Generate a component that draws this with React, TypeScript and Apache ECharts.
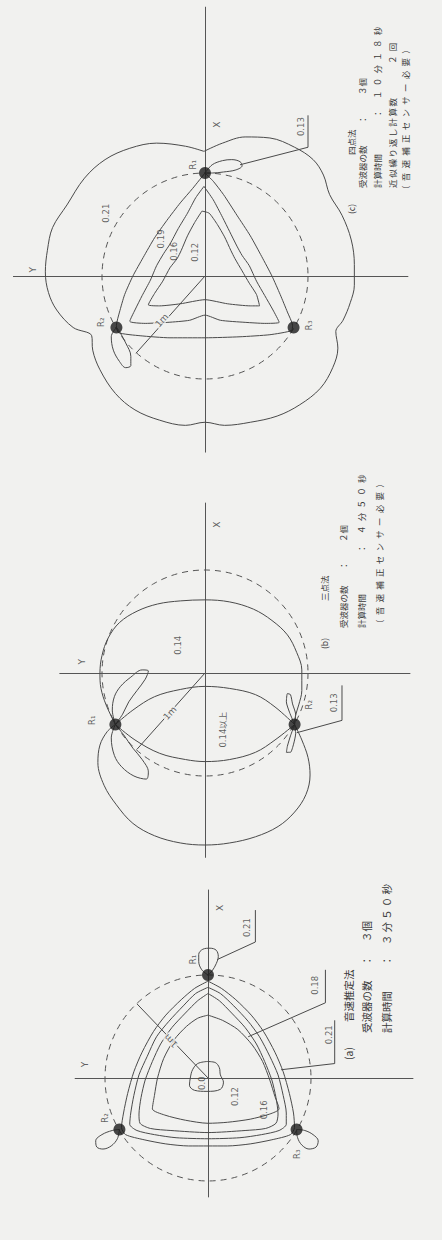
import { useEffect, useRef } from 'react';
import * as echarts from 'echarts';

type Pt = [number, number];

// All coordinates are in metres; u runs to the right (−Y), v runs up (X).

// ---------- (c) 四点法 ----------
const cOuter: Pt[] = [
  [-0.01, 1.21], [0.17, 1.29], [0.39, 1.35], [0.63, 1.34], [0.87, 1.25], [1.05, 1.13],
  [1.15, 0.98], [1.21, 0.79], [1.33, 0.59], [1.42, 0.35], [1.45, 0.11], [1.45, -0.09],
  [1.41, -0.26], [1.34, -0.43], [1.27, -0.54], [1.29, -0.7], [1.24, -0.89], [1.12, -1.09],
  [0.92, -1.25], [0.7, -1.36], [0.44, -1.42], [0.19, -1.45], [0.0, -1.42], [-0.19, -1.45],
  [-0.44, -1.4], [-0.68, -1.3], [-0.87, -1.14], [-1.02, -0.91], [-1.09, -0.72], [-1.1, -0.58],
  [-1.28, -0.5], [-1.44, -0.33], [-1.52, -0.16], [-1.55, 0.04], [-1.53, 0.25], [-1.48, 0.47],
  [-1.34, 0.69], [-1.17, 0.95], [-0.97, 1.13], [-0.73, 1.24], [-0.47, 1.29], [-0.19, 1.26],
];
const cTri19: Pt[] = [
  [0.0, 1.0], [-0.12, 0.85], [-0.24, 0.71], [-0.37, 0.54], [-0.49, 0.37], [-0.6, 0.18],
  [-0.7, 0.0], [-0.78, -0.18], [-0.83, -0.35], [-0.86, -0.48], [-0.84, -0.55], [-0.63, -0.58],
  [-0.34, -0.6], [0.0, -0.6], [0.34, -0.59], [0.63, -0.57], [0.84, -0.53], [0.85, -0.48],
  [0.8, -0.35], [0.73, -0.18], [0.65, 0.0], [0.55, 0.19], [0.44, 0.39], [0.31, 0.59],
  [0.18, 0.79], [0.08, 0.92],
];
const cTri16: Pt[] = [
  [-0.01, 0.87], [-0.09, 0.76], [-0.17, 0.61], [-0.26, 0.46], [-0.34, 0.31], [-0.4, 0.22],
  [-0.47, 0.1], [-0.53, -0.04], [-0.61, -0.19], [-0.68, -0.33], [-0.73, -0.44], [-0.58, -0.46],
  [-0.36, -0.45], [-0.15, -0.43], [0.0, -0.38], [0.15, -0.43], [0.39, -0.45], [0.58, -0.46],
  [0.72, -0.45], [0.66, -0.33], [0.58, -0.19], [0.5, -0.05], [0.43, 0.1], [0.36, 0.2],
  [0.31, 0.29], [0.24, 0.43], [0.17, 0.57], [0.08, 0.74],
];
const cTri12: Pt[] = [
  [-0.03, 0.63], [-0.1, 0.52], [-0.17, 0.39], [-0.23, 0.25], [-0.27, 0.17], [-0.34, 0.08],
  [-0.41, -0.05], [-0.49, -0.17], [-0.55, -0.28], [-0.44, -0.29], [-0.24, -0.27], [0.0, -0.23],
  [0.22, -0.27], [0.44, -0.29], [0.53, -0.29], [0.5, -0.18], [0.43, -0.07], [0.36, 0.05],
  [0.29, 0.17], [0.25, 0.25], [0.19, 0.38], [0.12, 0.5], [0.04, 0.61],
];
const cLoopR1: Pt[] = [
  [0.0, 1.0], [0.07, 1.08], [0.17, 1.12], [0.26, 1.13], [0.34, 1.11], [0.36, 1.07],
  [0.3, 1.03], [0.18, 1.01], [0.07, 1.0],
];
const cLoopR2: Pt[] = [
  [-0.86, -0.5], [-0.91, -0.59], [-0.89, -0.72], [-0.83, -0.83], [-0.77, -0.89], [-0.72, -0.87],
  [-0.72, -0.78], [-0.77, -0.65], [-0.83, -0.54],
];
const cReceivers: Pt[] = [[0, 1], [-0.86, -0.5], [0.86, -0.5]];
const cReceiverNames = ['R₁', 'R₂', 'R₃'];
const cReceiverLabelAt: Pt[] = [[-0.12, 1.08], [-1.01, -0.45], [1.01, -0.48]];
const cValues = ['0.21', '0.19', '0.16', '0.12', '0.13'];
const cValueAt: Pt[] = [[-0.96, 0.61], [-0.43, 0.36], [-0.3, 0.24], [-0.1, 0.23], [0.93, 1.45]];
const cLeader: Pt[] = [[0.34, 1.08], [1.0, 1.25], [1.0, 1.56]];
const cArrow: Pt[] = [[0, 0], [-0.67, -0.75]];
const cArrowLabelAt: Pt = [-0.42, -0.43];
const cAxisNameAt: Pt[] = [[0.12, 1.47], [-1.67, 0.06]];

// ---------- (b) 三点法 ----------
const bUpper: Pt[] = [
  [-0.87, -0.5], [-0.96, -0.31], [-1.01, -0.15], [-1.02, 0.0], [-1.0, 0.17], [-0.94, 0.34],
  [-0.83, 0.49], [-0.66, 0.6], [-0.46, 0.67], [-0.24, 0.7], [0.0, 0.71], [0.24, 0.69],
  [0.47, 0.62], [0.65, 0.51], [0.8, 0.37], [0.89, 0.2], [0.94, 0.03], [0.94, -0.17],
  [0.91, -0.31], [0.88, -0.41], [0.87, -0.5],
];
const bLower: Pt[] = [
  [0.87, -0.5], [0.94, -0.65], [1.0, -0.82], [1.02, -0.99], [0.98, -1.18], [0.87, -1.35],
  [0.71, -1.49], [0.49, -1.59], [0.24, -1.65], [0.0, -1.67], [-0.24, -1.65], [-0.49, -1.58],
  [-0.7, -1.46], [-0.86, -1.28], [-0.98, -1.09], [-1.04, -0.87], [-1.02, -0.7], [-0.95, -0.57],
  [-0.87, -0.5],
];
const bLensTop: Pt[] = [
  [-0.87, -0.5], [-0.7, -0.36], [-0.49, -0.23], [-0.24, -0.16], [0.0, -0.13], [0.24, -0.15],
  [0.49, -0.21], [0.68, -0.33], [0.87, -0.5],
];
const bLensBottom: Pt[] = [
  [-0.87, -0.5], [-0.68, -0.65], [-0.44, -0.78], [-0.19, -0.84], [0.0, -0.86], [0.24, -0.84],
  [0.49, -0.77], [0.68, -0.65], [0.87, -0.5],
];
const bPetalUp: Pt[] = [
  [-0.87, -0.5], [-0.9, -0.36], [-0.88, -0.23], [-0.82, -0.13], [-0.72, -0.04], [-0.61, 0.03],
  [-0.55, 0.02], [-0.58, -0.06], [-0.66, -0.17], [-0.74, -0.28], [-0.8, -0.4],
];
const bPetalDown: Pt[] = [
  [-0.87, -0.5], [-0.91, -0.63], [-0.88, -0.8], [-0.81, -0.91], [-0.69, -1.0], [-0.57, -1.03],
  [-0.55, -0.96], [-0.61, -0.84], [-0.7, -0.73], [-0.79, -0.6],
];
const bTuftUp: Pt[] = [
  [0.87, -0.5], [0.82, -0.38], [0.79, -0.28], [0.8, -0.2], [0.83, -0.21], [0.85, -0.3], [0.88, -0.4],
];
const bTuftDown: Pt[] = [
  [0.87, -0.5], [0.83, -0.61], [0.8, -0.71], [0.79, -0.77], [0.83, -0.77], [0.86, -0.69], [0.88, -0.59],
];
const bReceivers: Pt[] = [[-0.87, -0.5], [0.87, -0.5]];
const bReceiverNames = ['R₁', 'R₂'];
const bReceiverLabelAt: Pt[] = [[-1.1, -0.46], [1.01, -0.31]];
const bValues = ['0.14', '0.14以上', '0.13'];
const bValueAt: Pt[] = [[-0.26, 0.27], [0.17, -0.55], [1.25, -0.29]];
const bLeader: Pt[] = [[0.89, -0.58], [1.33, -0.46], [1.33, -0.12]];
const bArrow: Pt[] = [[0, 0], [-0.66, -0.74]];
const bArrowLabelAt: Pt = [-0.34, -0.39];
const bAxisNameAt: Pt[] = [[0.12, 1.44], [-1.19, 0.11]];

// ---------- (a) 音速推定法 ----------
const aTri21: Pt[] = [
  [0.0, 0.94], [0.13, 0.87], [0.27, 0.76], [0.42, 0.61], [0.54, 0.45], [0.65, 0.25],
  [0.73, 0.06], [0.79, -0.15], [0.83, -0.34], [0.84, -0.48], [0.8, -0.55], [0.62, -0.6],
  [0.41, -0.64], [0.19, -0.66], [0.0, -0.66], [-0.19, -0.66], [-0.41, -0.64], [-0.62, -0.6],
  [-0.8, -0.55], [-0.84, -0.48], [-0.82, -0.34], [-0.78, -0.15], [-0.72, 0.06], [-0.64, 0.25],
  [-0.53, 0.45], [-0.41, 0.61], [-0.26, 0.76], [-0.13, 0.87],
];
const aTri19: Pt[] = [
  [0.0, 0.88], [0.12, 0.82], [0.25, 0.7], [0.39, 0.55], [0.5, 0.4], [0.6, 0.21],
  [0.68, 0.03], [0.73, -0.17], [0.76, -0.34], [0.76, -0.45], [0.69, -0.51], [0.52, -0.55],
  [0.31, -0.58], [0.0, -0.59], [-0.31, -0.58], [-0.52, -0.55], [-0.69, -0.51], [-0.76, -0.45],
  [-0.75, -0.34], [-0.72, -0.17], [-0.67, 0.03], [-0.59, 0.21], [-0.5, 0.4], [-0.38, 0.55],
  [-0.24, 0.7], [-0.12, 0.82],
];
const aTri18: Pt[] = [
  [0.0, 0.82], [0.11, 0.75], [0.23, 0.63], [0.36, 0.49], [0.47, 0.33], [0.55, 0.16],
  [0.62, -0.02], [0.66, -0.19], [0.68, -0.35], [0.66, -0.44], [0.56, -0.49], [0.36, -0.51],
  [0.0, -0.53], [-0.36, -0.51], [-0.56, -0.49], [-0.66, -0.44], [-0.67, -0.35], [-0.65, -0.19],
  [-0.61, -0.02], [-0.54, 0.16], [-0.46, 0.33], [-0.35, 0.49], [-0.22, 0.63], [-0.1, 0.75],
];
const aTri12: Pt[] = [
  [0.0, 0.61], [0.14, 0.56], [0.29, 0.47], [0.43, 0.32], [0.53, 0.16], [0.6, -0.02],
  [0.65, -0.18], [0.69, -0.3], [0.6, -0.35], [0.41, -0.4], [0.19, -0.43], [0.0, -0.44],
  [-0.22, -0.41], [-0.42, -0.36], [-0.54, -0.3], [-0.52, -0.17], [-0.49, 0.0], [-0.43, 0.19],
  [-0.33, 0.37], [-0.21, 0.5], [-0.1, 0.58],
];
const aCore: Pt[] = [
  [-0.01, 0.16], [0.07, 0.15], [0.11, 0.1], [0.12, 0.03], [0.15, -0.04], [0.12, -0.11],
  [-0.01, -0.13], [-0.13, -0.12], [-0.18, -0.07], [-0.17, 0.01], [-0.15, 0.08], [-0.1, 0.14],
];
const aLoopR1: Pt[] = [
  [0.0, 1.0], [-0.06, 1.05], [-0.09, 1.13], [-0.09, 1.2], [-0.05, 1.25], [0.02, 1.26],
  [0.08, 1.24], [0.1, 1.18], [0.08, 1.11], [0.04, 1.04],
];
const aLoopR2: Pt[] = [
  [-0.86, -0.5], [-0.93, -0.51], [-1.03, -0.55], [-1.09, -0.61], [-1.08, -0.67], [-1.02, -0.69],
  [-0.94, -0.66], [-0.88, -0.59],
];
const aLoopR3: Pt[] = [
  [0.86, -0.5], [0.94, -0.51], [1.02, -0.55], [1.07, -0.61], [1.05, -0.67], [0.98, -0.69],
  [0.91, -0.65], [0.87, -0.58],
];
const aReceivers: Pt[] = [[0, 1], [-0.86, -0.5], [0.86, -0.5]];
const aReceiverNames = ['R₁', 'R₂', 'R₃'];
const aReceiverLabelAt: Pt[] = [[-0.15, 1.15], [-1.0, -0.39], [0.86, -0.74]];
const aValues = ['0.21', '0.18', '0.21', '0.12', '0.16', '0.0'];
const aValueAt: Pt[] = [[0.38, 1.46], [1.04, 0.9], [1.17, 0.42], [0.26, -0.18], [0.54, -0.31], [-0.06, -0.05]];
const aLeaders: Pt[][] = [
  [[0.09, 1.15], [0.46, 1.32], [0.46, 1.63]],
  [[0.39, 0.4], [1.14, 0.73], [1.14, 1.05]],
  [[0.71, 0.08], [1.23, 0.14], [1.23, 0.56]],
];
const aArrow: Pt[] = [[0, 0], [-0.69, 0.72]];
const aArrowLabelAt: Pt = [-0.36, 0.36];
const aAxisNameAt: Pt[] = [[0.12, 1.65], [-1.19, 0.13]];

// Captions (each column reads bottom-to-top)
const captionC = ['(c)', '四点法', '受波器の数', '：', '３個', '計算時間', '：', '１０分１８秒', '近似繰り返し計算数', '２回', '（音速補正センサー必要）'];
const captionB = ['(b)', '三点法', '受波器の数', '：', '２個', '計算時間', '：', '４分５０秒', '（音速補正センサー必要）'];
const captionA = ['(a)', '音速推定法', '受波器の数', '：', '３個', '計算時間', '：', '３分５０秒'];

// ---------- layout ----------
const PX_PER_M = 103;
const panels = [
  { left: 13.42, top: 7.17, xr: [-1.86, 1.97], yr: [-1.71, 2.61] },
  { left: 59.77, top: 503.05, xr: [-1.41, 1.99], yr: [-1.79, 1.65] },
  { left: 75.13, top: 890.0, xr: [-1.29, 1.99], yr: [-1.155, 1.825] },
];
// [x, baseline start y, gap char] for each caption segment
const captionCLayout: [number, number, string][] = [
  [351, 214, ''], [351, 155, ''], [362, 188, ''], [362, 124, ''], [362, 95, ''],
  [377, 188, ''], [377, 118, ''], [377, 99, '\u2002'], [392, 188, '\u2009'], [392, 64, '\u2002'],
  [405, 194, '\u2002'],
];
const captionBLayout: [number, number, string][] = [
  [324, 649, ''], [324, 601, ''], [343, 628, ''], [343, 570, ''], [343, 542, ''],
  [361, 628, ''], [361, 553, ''], [361, 534, '\u2002'], [379, 628, '\u2002'],
];
const captionALayout: [number, number, string][] = [
  [348, 1060, ''], [348, 1022, ''], [366, 1033, ''], [366, 966, ''], [366, 942, ''],
  [386, 1033, ''], [386, 966, ''], [386, 945, '\u2009'],
];

const INK = '#4a4a4a';
const TEXT = '#3a3a3a';
const BG = '#f1f1ef';
const JP = '"Noto Sans CJK JP", sans-serif';
const NUM = '"DejaVu Sans", sans-serif';

const closed = (p: Pt[]): Pt[] => [...p, p[0]];
const spaced = (s: string, gap: string) => (gap ? Array.from(s).join(gap) : s);

function contour(g: number, data: Pt[], smooth = 0.35) {
  return {
    type: 'line', xAxisIndex: g, yAxisIndex: g, data, symbol: 'none', smooth, silent: true,
    lineStyle: { color: INK, width: 1 }, z: 3,
  };
}
function ring(g: number) {
  return {
    type: 'custom', xAxisIndex: g, yAxisIndex: g, data: [[0, 0, 1]], silent: true, z: 2,
    renderItem: (_p: any, api: any) => {
      const c = api.coord([api.value(0), api.value(1)]);
      const r = api.size([api.value(2), 0])[0];
      return {
        type: 'circle', shape: { cx: c[0], cy: c[1], r },
        style: { fill: 'none', stroke: '#555', lineWidth: 1, lineDash: [6, 5] },
      };
    },
  };
}
function polyline(g: number, coords: Pt[], arrows = false) {
  return {
    type: 'lines', coordinateSystem: 'cartesian2d', xAxisIndex: g, yAxisIndex: g, polyline: true,
    silent: true, z: 3, data: [{ coords }],
    symbol: arrows ? ['arrow', 'arrow'] : ['none', 'none'], symbolSize: 6,
    lineStyle: { color: INK, width: 1, opacity: 1 },
  };
}
function dots(g: number, pts: Pt[]) {
  return {
    type: 'scatter', xAxisIndex: g, yAxisIndex: g, data: pts, symbolSize: 12, silent: true, z: 5,
    itemStyle: { color: '#1b1b1b' },
  };
}
function texts(g: number, names: string[], at: Pt[], opt: any = {}) {
  return {
    type: 'scatter', xAxisIndex: g, yAxisIndex: g, silent: true, z: 6, symbolSize: 1,
    itemStyle: { color: 'rgba(0,0,0,0)' },
    data: names.map((n, i) => ({ name: n, value: at[i] })),
    label: {
      show: true, position: 'inside', formatter: '{b}', rotate: 90, color: TEXT,
      fontSize: 8.5, fontFamily: NUM, ...opt,
    },
  };
}
function captions(items: string[], layout: [number, number, string][], size: number) {
  return items.map((t, i) => ({
    type: 'text', x: layout[i][0], y: layout[i][1], rotation: Math.PI / 2, silent: true,
    style: {
      text: spaced(t, layout[i][2]), fill: TEXT, fontSize: size, fontFamily: JP,
      align: 'left', verticalAlign: 'middle',
    },
  }));
}

export default function App() {
  const ref = useRef<HTMLDivElement>(null);
  useEffect(() => {
    if (!ref.current) return;
    const chart = echarts.init(ref.current, null, { renderer: 'svg' });
    const axisBase = {
      type: 'value', axisTick: { show: false }, axisLabel: { show: false },
      splitLine: { show: false }, axisLine: { show: true, onZero: true, lineStyle: { color: '#555', width: 1 } },
    };
    const arrowLabel = { backgroundColor: BG, padding: [0, 1], fontSize: 9 };
    chart.setOption({
      animation: false,
      backgroundColor: BG,
      grid: panels.map((p) => ({
        left: p.left, top: p.top,
        width: (p.xr[1] - p.xr[0]) * PX_PER_M, height: (p.yr[1] - p.yr[0]) * PX_PER_M,
        outerBoundsMode: 'none',
      })),
      xAxis: panels.map((p, i) => ({ ...axisBase, gridIndex: i, min: p.xr[0], max: p.xr[1] })),
      yAxis: panels.map((p, i) => ({ ...axisBase, gridIndex: i, min: p.yr[0], max: p.yr[1] })),
      series: [
        // (c)
        ring(0),
        contour(0, closed(cOuter)),
        contour(0, closed(cTri19), 0.2),
        contour(0, closed(cTri16), 0.2),
        contour(0, closed(cTri12), 0.2),
        contour(0, closed(cLoopR1)),
        contour(0, closed(cLoopR2)),
        polyline(0, cLeader),
        polyline(0, cArrow, true),
        dots(0, cReceivers),
        texts(0, cReceiverNames, cReceiverLabelAt, { fontSize: 9 }),
        texts(0, cValues, cValueAt),
        texts(0, ['X', 'Y'], cAxisNameAt, { fontSize: 9 }),
        texts(0, ['1m'], [cArrowLabelAt], { ...arrowLabel, rotate: 48 }),
        // (b)
        ring(1),
        contour(1, bUpper),
        contour(1, bLower),
        contour(1, bLensTop),
        contour(1, bLensBottom),
        contour(1, closed(bPetalUp)),
        contour(1, closed(bPetalDown)),
        contour(1, closed(bTuftUp), 0.2),
        contour(1, closed(bTuftDown), 0.2),
        polyline(1, bLeader),
        polyline(1, bArrow, true),
        dots(1, bReceivers),
        texts(1, bReceiverNames, bReceiverLabelAt, { fontSize: 9 }),
        texts(1, bValues, bValueAt, { fontFamily: `${NUM.split(',')[0]}, ${JP}` }),
        texts(1, ['X', 'Y'], bAxisNameAt, { fontSize: 9 }),
        texts(1, ['1m'], [bArrowLabelAt], { ...arrowLabel, rotate: 48 }),
        // (a)
        ring(2),
        contour(2, closed(aTri21), 0.25),
        contour(2, closed(aTri19), 0.25),
        contour(2, closed(aTri18), 0.25),
        contour(2, closed(aTri12), 0.25),
        contour(2, closed(aCore)),
        contour(2, closed(aLoopR1)),
        contour(2, closed(aLoopR2)),
        contour(2, closed(aLoopR3)),
        ...aLeaders.map((l) => polyline(2, l)),
        polyline(2, aArrow, true),
        dots(2, aReceivers),
        texts(2, aReceiverNames, aReceiverLabelAt, { fontSize: 9 }),
        texts(2, aValues, aValueAt),
        texts(2, ['X', 'Y'], aAxisNameAt, { fontSize: 9 }),
        texts(2, ['1m'], [aArrowLabelAt], { ...arrowLabel, rotate: 135 }),
      ],
      graphic: [
        ...captions(captionC, captionCLayout, 8.5),
        ...captions(captionB, captionBLayout, 8.5),
        ...captions(captionA, captionALayout, 10.5),
      ],
    });
    return () => chart.dispose();
  }, []);
  return (
    <div
      ref={ref}
      style={{ position: 'absolute', left: 0, top: 0, width: 442, height: 1240 }}
    />
  );
}
